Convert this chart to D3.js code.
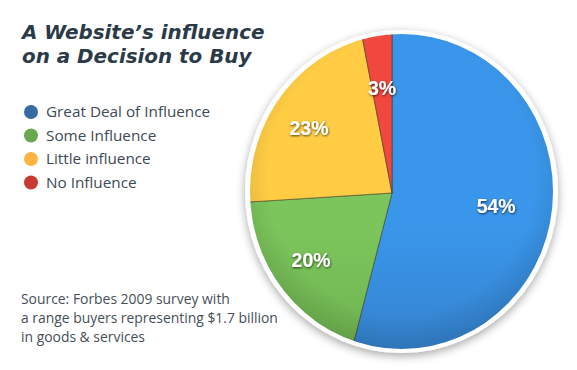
<!DOCTYPE html>
<html>
<head>
<meta charset="utf-8">
<script src="https://cdn.jsdelivr.net/npm/d3@7"></script>
<style>
  html, body { margin: 0; padding: 0; background: #fff; }
  svg { display: block; }
</style>
</head>
<body>
<svg id="chart" width="577" height="370"></svg>
<script>
'use strict';
(function() {
	//Chart data
	var categories = ['Great Deal of Influence', 'Some Influence', 'Little influence', 'No Influence'];
	var shares = [54, 20, 23, 3];
	var titleLines = ['A Website\u2019s influence', 'on a Decision to Buy'];
	var sourceLines = ['Source: Forbes 2009 survey with',
		'a range buyers representing $1.7 billion',
		'in goods & services'];

	//Colours: legend dot, slice top, slice bottom
	var dotColors = ['#386ba6', '#6aa84f', '#fdb443', '#c93a35'];
	var topColors = ['#3a96ea', '#7cc55c', '#ffcc44', '#f0483f'];
	var botColors = ['#2c66a6', '#5b9a40', '#f6ad38', '#d93a33'];

	var svg = d3.select('#chart');
	var defs = svg.append('defs');

	/***************************************
	 * TITLE
	 ***************************************/
	svg.append('g').selectAll('text')
		.data(titleLines)
		.enter().append('text')
			.attr('x', 22)
			.attr('y', function(d, i) { return 39 + i * 24; })
			.style('font-family', '"DejaVu Sans", sans-serif')
			.style('font-weight', 'bold')
			.style('font-style', 'italic')
			.style('font-size', '19.9px')
			.style('fill', '#2b3a48')
			.text(function(d) { return d; });

	/***************************************
	 * LEGEND
	 ***************************************/
	var legend = svg.append('g').selectAll('g')
		.data(categories)
		.enter().append('g')
			.attr('transform', function(d, i) { return 'translate(31,' + (112 + i * 23.5) + ')'; });
	legend.append('circle')
		.attr('r', 7)
		.style('fill', function(d, i) { return dotColors[i]; });
	legend.append('text')
		.attr('x', 15)
		.attr('dy', '0.35em')
		.style('font-family', '"Open Sans", sans-serif')
		.style('font-size', '15.3px')
		.style('fill', '#3e4a56')
		.text(function(d) { return d; });

	/***************************************
	 * SOURCE NOTE
	 ***************************************/
	svg.append('g').selectAll('text')
		.data(sourceLines)
		.enter().append('text')
			.attr('x', 21)
			.attr('y', function(d, i) { return 304 + i * 19; })
			.style('font-family', '"Open Sans", sans-serif')
			.style('font-size', '13.9px')
			.style('fill', '#464f58')
			.text(function(d) { return d; });

	/***************************************
	 * PIE
	 ***************************************/
	//Visible disc is a slightly squashed ellipse, apex sits left of its centre
	var disc = {cx: 401.5, cy: 191.5, rx: 151.5, ry: 157.5};
	var apex = [392, 193];

	var shadow = defs.append('filter').attr('id', 'pieShadow')
		.attr('x', '-20%').attr('y', '-20%').attr('width', '140%').attr('height', '140%');
	shadow.append('feGaussianBlur').attr('in', 'SourceAlpha').attr('stdDeviation', 5);
	shadow.append('feOffset').attr('dx', 0).attr('dy', 3).attr('result', 'blur');
	shadow.append('feComponentTransfer').append('feFuncA').attr('type', 'linear').attr('slope', 0.35);
	var merge = shadow.append('feMerge');
	merge.append('feMergeNode');
	merge.append('feMergeNode').attr('in', 'SourceGraphic');

	//White rim with soft shadow
	svg.append('ellipse')
		.attr('cx', disc.cx).attr('cy', disc.cy)
		.attr('rx', disc.rx + 5).attr('ry', disc.ry + 4)
		.style('fill', '#fff')
		.attr('filter', 'url(#pieShadow)');

	defs.append('clipPath').attr('id', 'discClip')
		.append('ellipse')
			.attr('cx', disc.cx).attr('cy', disc.cy)
			.attr('rx', disc.rx).attr('ry', disc.ry);

	categories.forEach(function(c, i) {
		var g = defs.append('linearGradient').attr('id', 'grad' + i)
			.attr('gradientUnits', 'userSpaceOnUse')
			.attr('x1', 0).attr('y1', disc.cy - disc.ry)
			.attr('x2', 0).attr('y2', disc.cy + disc.ry);
		g.append('stop').attr('offset', '0%').attr('stop-color', topColors[i]);
		g.append('stop').attr('offset', '100%').attr('stop-color', botColors[i]);
	});

	var pie = d3.pie().sort(null).value(function(d) { return d; });
	var arcs = pie(shares);
	var bigArc = d3.arc().innerRadius(0).outerRadius(260);
	var labelArc = d3.arc().innerRadius(105).outerRadius(105);

	var pieG = svg.append('g').attr('clip-path', 'url(#discClip)')
		.append('g')
			.attr('transform', 'translate(' + apex[0] + ',' + apex[1] + ')');
	pieG.selectAll('path.slice')
		.data(arcs)
		.enter().append('path')
			.attr('class', 'slice')
			.attr('d', bigArc)
			.style('fill', function(d, i) { return 'url(#grad' + i + ')'; })
			.style('stroke', '#3b3424')
			.style('stroke-opacity', 0.55)
			.style('stroke-width', 1);

	//Soft darkening towards the rim
	var rimShade = defs.append('radialGradient').attr('id', 'rimShade')
		.attr('cx', '50%').attr('cy', '45%').attr('r', '55%');
	rimShade.append('stop').attr('offset', '80%').attr('stop-color', '#000').attr('stop-opacity', 0);
	rimShade.append('stop').attr('offset', '100%').attr('stop-color', '#000').attr('stop-opacity', 0.12);
	svg.append('ellipse')
		.attr('cx', disc.cx).attr('cy', disc.cy)
		.attr('rx', disc.rx).attr('ry', disc.ry)
		.style('fill', 'url(#rimShade)');

	//Labels
	var labelShadow = defs.append('filter').attr('id', 'labelShadow');
	labelShadow.append('feDropShadow').attr('dx', 0.5).attr('dy', 1)
		.attr('stdDeviation', 0.8).attr('flood-color', '#000').attr('flood-opacity', 0.7);

	svg.append('g')
		.attr('transform', 'translate(' + apex[0] + ',' + apex[1] + ')')
		.selectAll('text')
		.data(arcs)
		.enter().append('text')
			.attr('transform', function(d) { return 'translate(' + labelArc.centroid(d) + ')'; })
			.attr('text-anchor', 'middle')
			.attr('dy', '0.35em')
			.attr('filter', 'url(#labelShadow)')
			.style('font-family', '"Liberation Sans", Arial, sans-serif')
			.style('font-weight', 'bold')
			.style('font-size', '19.5px')
			.style('fill', '#fff')
			.text(function(d) { return d.data + '%'; });
})();
</script>
</body>
</html>
